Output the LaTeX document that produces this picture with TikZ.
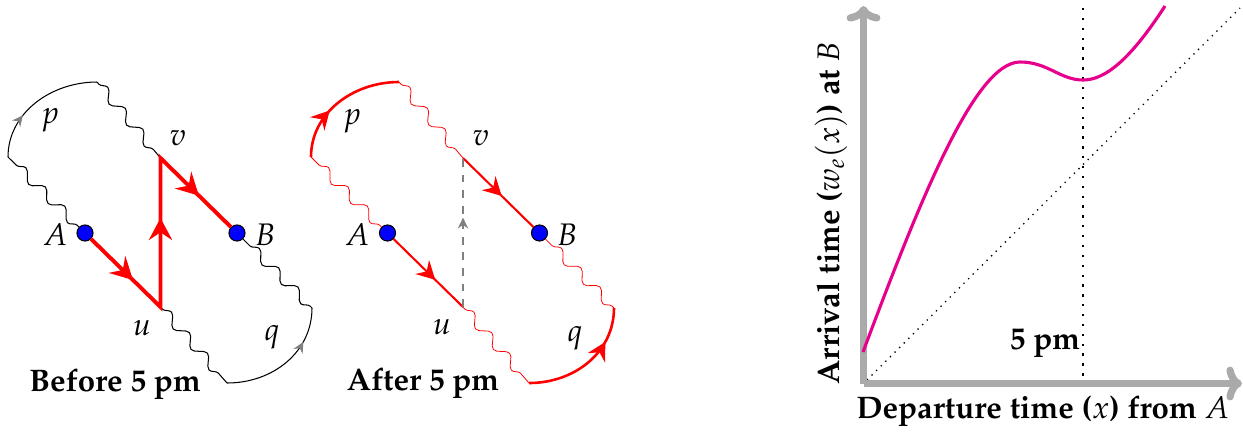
\documentclass[tikz,border=0pt]{standalone}
\usepackage[T1]{fontenc}
\usepackage{mathpazo}
\usetikzlibrary{arrows.meta,decorations.pathmorphing,decorations.markings}
\definecolor{mag}{RGB}{230,0,140}
\definecolor{axgray}{RGB}{170,170,170}
\tikzset{
  wavy/.style={decorate, decoration={snake, segment length=10.5pt, amplitude=1.9pt, pre length=1pt, post length=3pt}},
  thinblk/.style={draw=black, line width=0.4pt},
  thinred/.style={draw=red, line width=0.3pt},
  redarc/.style={draw=red, line width=1pt},
  redmid/.style={draw=red, line width=0.8pt},
  redthick/.style={draw=red, line width=1.5pt, line join=miter},
  bigtip/.style={postaction={decorate, decoration={markings, mark=at position #1 with {\arrow[red]{Stealth[length=8.5pt,width=9pt,inset=3pt]}}}}},
  midtip/.style={postaction={decorate, decoration={markings, mark=at position #1 with {\arrow[red]{Stealth[length=7pt,width=7.5pt,inset=2.4pt]}}}}},
  graytip/.style={postaction={decorate, decoration={markings, mark=at position #1 with {\arrow[gray]{Stealth[length=4.2pt,width=4pt,inset=1.4pt]}}}}},
  dot/.style={circle, fill=blue, draw=black, line width=0.4pt, inner sep=0pt, minimum size=6.2pt},
  lbl/.style={inner sep=0pt, font=\large},
  axisline/.style={draw=axgray, line width=2.8pt, -{Computer Modern Rightarrow[length=6pt,width=13pt]}},
}
\begin{document}
\begin{tikzpicture}[x=0.385pt, y=-0.385pt]
\useasboundingbox (0,0) rectangle (1243,432);

% ---------- Left: Before 5 pm ----------
\coordinate (u1) at (160.5,307);
\coordinate (v1) at (160.5,158);
\node[dot] (A1) at (85,233) {};
\node[dot] (B1) at (237,233) {};
\coordinate (p1s) at (8,157);
\coordinate (p1e) at (97,82);
\coordinate (q1s) at (227,383);
\coordinate (q1e) at (312,308);

\draw[thinblk, wavy] (A1) -- (p1s);
\draw[thinblk, graytip=0.35] (p1s) .. controls +(0,-44) and +(-46,0) .. (p1e);
\draw[thinblk, wavy] (p1e) -- (v1);
\draw[thinblk, wavy] (u1) -- (q1s);
\draw[thinblk, graytip=0.72] (q1s) .. controls +(46,0) and +(0,44) .. (q1e);
\draw[thinblk, wavy] (q1e) -- (B1);

\draw[redthick, bigtip=0.17, bigtip=0.54, bigtip=0.87] (A1) -- (u1) -- (v1) -- (B1);

\node[lbl] (lp1) at (50,120) {$p$};
\node[lbl] (lv1) at (178,138) {$v$};
\node[lbl] (lA1) at (55,235) {$A$};
\node[lbl] (lB1) at (265,235) {$B$};
\node[lbl] (lu1) at (142,328) {$u$};
\node[lbl] (lq1) at (272,337) {$q$};
\node[font=\large\bfseries] (t1) at (115,384) {Before 5 pm};

% ---------- Middle: After 5 pm ----------
\coordinate (u2) at (463,307);
\coordinate (v2) at (463,158);
\node[dot] (A2) at (387.5,233) {};
\node[dot] (B2) at (539.5,233) {};
\coordinate (p2s) at (311,157);
\coordinate (p2e) at (399,82);
\coordinate (q2s) at (529,383);
\coordinate (q2e) at (614,308);

\draw[thinred, wavy] (A2) -- (p2s);
\draw[redarc, midtip=0.4] (p2s) .. controls +(0,-44) and +(-46,0) .. (p2e);
\draw[thinred, wavy] (p2e) -- (v2);
\draw[thinred, wavy] (u2) -- (q2s);
\draw[redarc, midtip=0.72] (q2s) .. controls +(46,0) and +(0,44) .. (q2e);
\draw[thinred, wavy] (q2e) -- (B2);

\draw[redmid, midtip=0.6] (A2) -- (u2);
\draw[redmid, midtip=0.55] (v2) -- (B2);
\draw[gray, dashed, line width=0.6pt, graytip=0.6] (u2) -- (v2);

\node[lbl] (lp2) at (352,121) {$p$};
\node[lbl] (lv2) at (481,138) {$v$};
\node[lbl] (lA2) at (357,235) {$A$};
\node[lbl] (lB2) at (567,235) {$B$};
\node[lbl] (lu2) at (442,327) {$u$};
\node[lbl] (lq2) at (575,338) {$q$};
\node[font=\large\bfseries] (t2) at (423,383) {After 5 pm};

% ---------- Right: plot ----------
\coordinate (O) at (863.5,383.5);
\coordinate (Yt) at (863.5,6);
\coordinate (Xt) at (1242,383.5);
\coordinate (D1) at (867,380);
\coordinate (D2) at (1240,8);
\coordinate (V1) at (1083,8);
\coordinate (V2) at (1083,383);

\draw[black, line width=0.5pt, dotted] (D1) -- (D2);
\draw[black, line width=0.9pt, dash pattern=on 0.9pt off 2.9pt] (V1) -- (V2);
\draw[axisline] (O) -- (Yt);
\draw[axisline] (O) -- (Xt);

\draw[mag, line width=1.2pt] (863,352) .. controls (920,200) and (975,62) .. (1020,62)
  .. controls (1048,62) and (1060,80) .. (1083,80)
  .. controls (1105,80) and (1130,60) .. (1165,6);

\node[font=\large\bfseries] (fivepm) at (1045,343) {5 pm};
\node[font=\large\bfseries] (xlab) at (1043,411) {Departure time ($x$) from $A$};
\node[font=\large\bfseries, rotate=90] (ylab) at (831,213) {Arrival time ($w_e(x)$) at $B$};
\end{tikzpicture}
\end{document}
